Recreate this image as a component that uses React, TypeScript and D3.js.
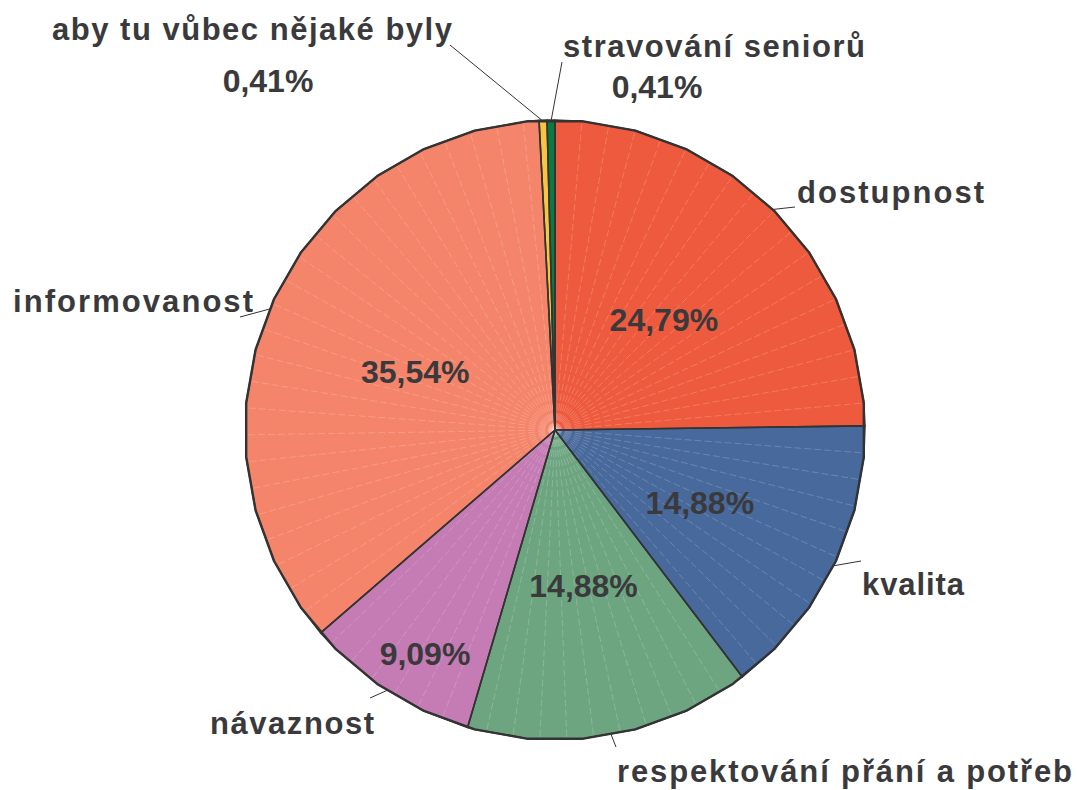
import React from "react";
import * as d3 from "d3";

const categories = [
  "dostupnost",
  "kvalita",
  "respektování přání a potřeb",
  "návaznost",
  "informovanost",
  "aby tu vůbec nějaké byly",
  "stravování seniorů",
];
const values = [24.79, 14.88, 14.88, 9.09, 35.54, 0.41, 0.41];
const valueLabels = ["24,79%", "14,88%", "14,88%", "9,09%", "35,54%", "0,41%", "0,41%"];
const colors = ["#EE5A3D", "#48699B", "#6DA580", "#C57BB3", "#F4846A", "#F9C440", "#0B7A40"];

// layout (not data)
const W = 1077, H = 790;
const CX = 555, CY = 430, R = 310;
const FONT = "'Liberation Sans', Arial, Helvetica, sans-serif";
const TXT = "#3a3a3c";
const nameLayout = [
  { x: 797, y: 203, w: 187 },
  { x: 862, y: 595, w: 102 },
  { x: 617, y: 782, w: 455 },
  { x: 210, y: 734, w: 164 },
  { x: 13, y: 312, w: 240 },
  { x: 52, y: 40, w: 400 },
  { x: 563, y: 57, w: 302 },
];
const leaderLayout = [
  [795, 207],
  [861, 561],
  [616, 747],
  [370, 698],
  [240, 317],
  [450, 45],
  [562, 62],
];
const valueLayout: any[] = [
  { rf: 0.5, dy: 11 },
  { rf: 0.52, dy: 13 },
  { rf: 0.51, dy: 11 },
  { x: 425, y: 665 },
  { rf: 0.49, dy: 13 },
  { x: 268, y: 92 },
  { x: 657, y: 98 },
];

export default function App() {
  const pie = d3
    .pie<number>()
    .sort(null)
    .value((d) => d)
    .startAngle(0)
    .endAngle(Math.PI * 2);
  const arcs = pie(values);

  const pt = (a: number, r: number): [number, number] => [
    CX + Math.sin(a) * r,
    CY - Math.cos(a) * r,
  ];
  const STEP = (10 * Math.PI) / 180;
  const OFF = (5 * Math.PI) / 180;
  const LSTEP = (5 * Math.PI) / 180;

  const line = d3.line();

  const slicePolys = arcs.map((a) => {
    const pts: [number, number][] = [[CX, CY], pt(a.startAngle, R)];
    let k = Math.ceil((a.startAngle - OFF) / STEP + 1e-9);
    for (; OFF + k * STEP < a.endAngle - 1e-9; k++) {
      pts.push(pt(OFF + k * STEP, R));
    }
    pts.push(pt(a.endAngle, R));
    return pts;
  });

  const rimPoint = (ang: number): [number, number] => {
    const k = Math.floor((ang - OFF) / STEP);
    const a0 = OFF + k * STEP;
    const a1 = a0 + STEP;
    const p0 = pt(a0, R), p1 = pt(a1, R);
    const dx = Math.sin(ang), dy = -Math.cos(ang);
    const ex = p1[0] - p0[0], ey = p1[1] - p0[1];
    const det = dx * -ey - dy * -ex;
    const t = ((p0[0] - CX) * -ey - (p0[1] - CY) * -ex) / det;
    return [CX + dx * t, CY + dy * t];
  };

  const rimPts: [number, number][] = [];
  d3.range(0, 36).forEach((k) => rimPts.push(pt(OFF + k * STEP, R)));

  return (
    <svg width={W} height={H} style={{ position: "absolute", left: 0, top: 0, background: "#fff" }}>
      <rect x={0} y={0} width={W} height={H} fill="#fff" />
      {arcs.map((a, i) => (
        <g key={i}>
          <path d={line(slicePolys[i]) + "Z"} fill={colors[i]} />
          {d3.range(a.startAngle + LSTEP, a.endAngle - LSTEP * 0.3, LSTEP).map((ang, j) => {
            const [x, y] = rimPoint(ang);
            return (
              <line
                key={j}
                x1={CX}
                y1={CY}
                x2={x}
                y2={y}
                stroke="#fff"
                strokeOpacity={0.28}
                strokeWidth={0.7}
                strokeDasharray="7 3"
              />
            );
          })}
        </g>
      ))}
      {arcs.map((a, i) => (
        <path
          key={"o" + i}
          d={line(slicePolys[i]) + "Z"}
          fill="none"
          stroke="#333"
          strokeWidth={1.6}
          strokeLinejoin="round"
        />
      ))}
      <path d={line(rimPts) + "Z"} fill="none" stroke="#333" strokeWidth={2.4} strokeLinejoin="round" />
      {arcs.map((a, i) => {
        const mid = (a.startAngle + a.endAngle) / 2;
        const [x, y] = rimPoint(mid);
        return (
          <line
            key={"l" + i}
            x1={x}
            y1={y}
            x2={leaderLayout[i][0]}
            y2={leaderLayout[i][1]}
            stroke="#333"
            strokeWidth={1}
          />
        );
      })}
      {categories.map((c, i) => (
        <text
          key={"n" + i}
          x={nameLayout[i].x}
          y={nameLayout[i].y}
          textLength={nameLayout[i].w}
          lengthAdjust="spacing"
          fontFamily={FONT}
          fontWeight="bold"
          fontSize={31}
          fill={TXT}
        >
          {c}
        </text>
      ))}
      {arcs.map((a, i) => {
        const L = valueLayout[i];
        let x: number, y: number;
        if (L.rf !== undefined) {
          const mid = (a.startAngle + a.endAngle) / 2;
          [x, y] = pt(mid, R * L.rf);
          y += L.dy;
        } else {
          x = L.x;
          y = L.y;
        }
        return (
          <text
            key={"v" + i}
            x={x}
            y={y}
            textAnchor="middle"
            fontFamily={FONT}
            fontWeight="bold"
            fontSize={32}
            fill={TXT}
          >
            {valueLabels[i]}
          </text>
        );
      })}
    </svg>
  );
}
